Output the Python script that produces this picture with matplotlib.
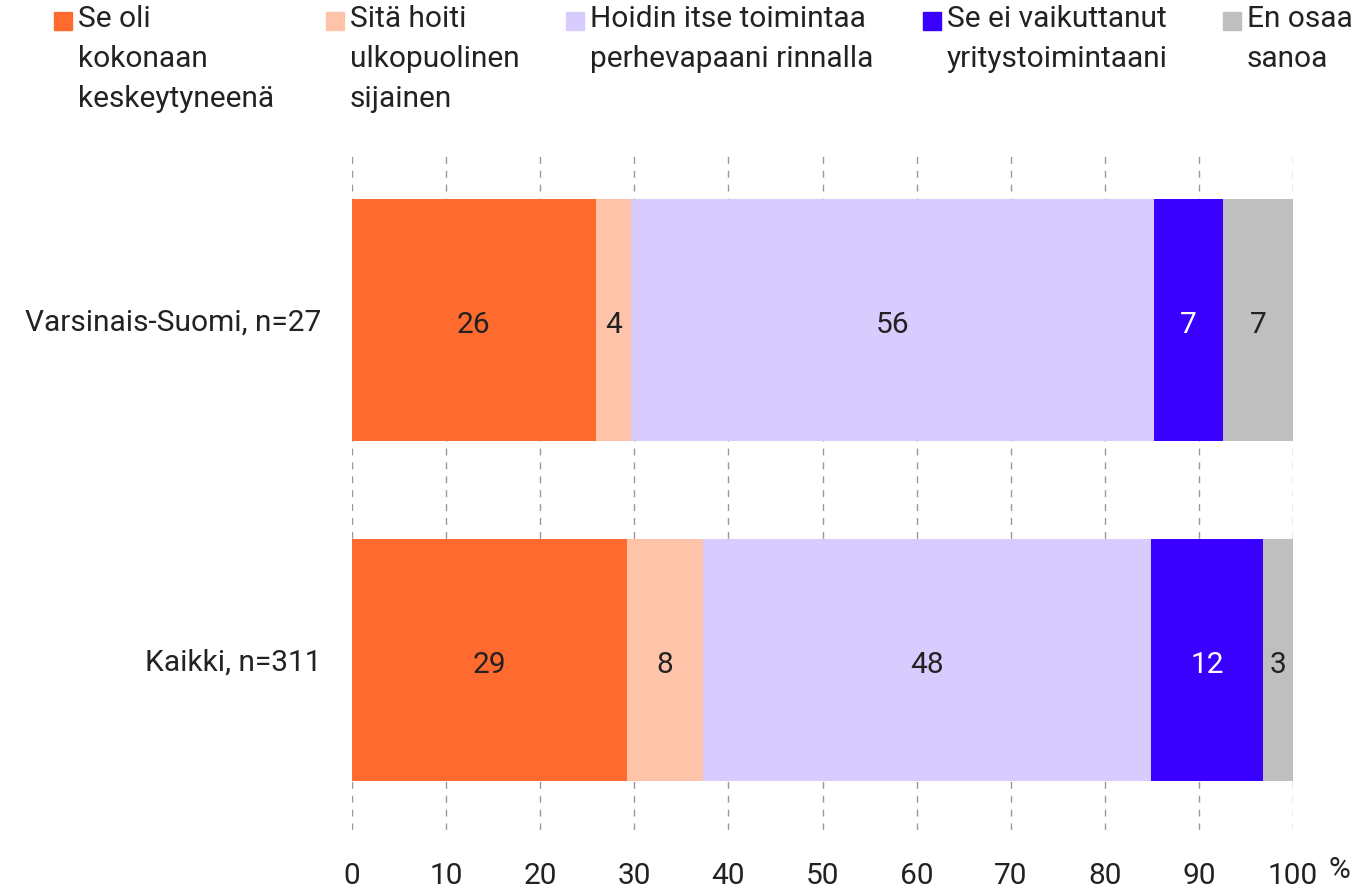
import numpy as np
import matplotlib.pyplot as plt
from matplotlib.patches import Rectangle

plt.rcParams['font.family'] = ['Roboto', 'DejaVu Sans']

# data
groups = ["Varsinais-Suomi, n=27", "Kaikki, n=311"]
series = ["Se oli\nkokonaan\nkeskeytyneenä",
          "Sitä hoiti\nulkopuolinen\nsijainen",
          "Hoidin itse toimintaa\nperhevapaani rinnalla",
          "Se ei vaikuttanut\nyritystoimintaani",
          "En osaa\nsanoa"]
vals_vs = [25.9, 3.7, 55.6, 7.4, 7.4]
vals_all = [29.2, 8.1, 47.6, 11.9, 3.2]
labels_vs = ["26", "4", "56", "7", "7"]
labels_all = ["29", "8", "48", "12", "3"]
xticks = [0, 10, 20, 30, 40, 50, 60, 70, 80, 90, 100]

colors = ["#FF6A2F", "#FFC3A9", "#D8CCFF", "#3A00FF", "#BFBFBF"]
txtcol = ["#222222", "#222222", "#222222", "white", "#222222"]
TC = "#222222"
FS = 21.5

fig = plt.figure(figsize=(13.6, 8.89), dpi=100)
ax = fig.add_axes([352/1360, 1 - 830/889, (1293-352)/1360, 680/889])

data = np.array([vals_vs, vals_all])
lbls = [labels_vs, labels_all]
ypos = np.arange(len(groups))
left = np.zeros(len(groups))
for j in range(len(series)):
    ax.barh(ypos, data[:, j], left=left, height=0.713, color=colors[j], zorder=2)
    for i in range(len(groups)):
        ax.text(left[i] + data[i, j] / 2, ypos[i] + 0.015, lbls[i][j], ha='center', va='center',
                fontsize=FS, color=txtcol[j], zorder=3)
    left += data[:, j]

ax.set_xlim(0, 100)
ax.set_ylim(1.5, -0.5)
ax.set_xticks(xticks)
ax.set_xticklabels([str(t) for t in xticks], fontsize=FS, color=TC)
ax.set_yticks(ypos)
ax.set_yticklabels(groups, fontsize=FS, color=TC)
ax.tick_params(axis='x', length=0, pad=23)
ax.tick_params(axis='y', length=0, pad=22)
for s in ax.spines.values():
    s.set_visible(False)
ax.grid(axis='x', color='#999999', linestyle=(0, (5, 5)), linewidth=1, zorder=1)
ax.set_axisbelow(True)
fig.text(1328/1360, 1 - 870/889, "%", fontsize=FS, color=TC, ha='left', va='center')

# legend drawn manually
leg_x = [54, 326, 566, 923, 1223]
for j in range(len(series)):
    fig.patches.append(Rectangle((leg_x[j]/1360, 1 - 30/889), 18/1360, 18/889,
                                 transform=fig.transFigure, color=colors[j]))
    fig.text((leg_x[j] + 24)/1360, 1 - 5/889, series[j], fontsize=FS, color=TC,
             ha='left', va='top', linespacing=1.55)

fig.savefig("out.png", dpi=100)
